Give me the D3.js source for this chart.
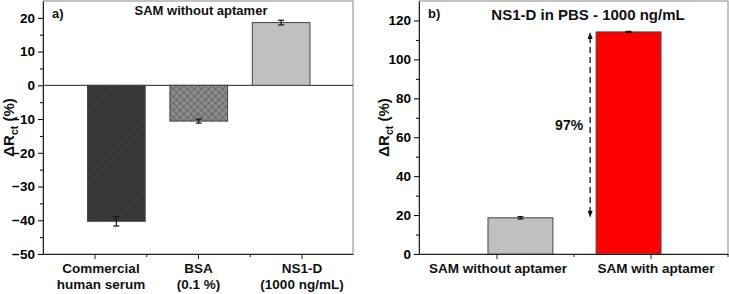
<!DOCTYPE html>
<html>
<head>
<meta charset="utf-8">
<script src="https://cdn.jsdelivr.net/npm/d3@7"></script>
<style>
  body { margin: 0; background: #fff; }
  text { font-family: "Liberation Sans", Arial, sans-serif; font-weight: bold; fill: #111; }
</style>
</head>
<body>
<div id="plot"></div>
<script>
// panel a) data
var catsA = ["Commercial human serum", "BSA (0.1 %)", "NS1-D (1000 ng/mL)"];
var labelsA = [["Commercial", "human serum"], ["BSA", "(0.1 %)"], ["NS1-D", "(1000 ng/mL)"]];
var valuesA = [-40.3, -10.6, 18.6];
var errorsA = [1.4, 0.6, 0.7];
var ticksA = [-50, -40, -30, -20, -10, 0, 10, 20];

// panel b) data
var catsB = ["SAM without aptamer", "SAM with aptamer"];
var valuesB = [18.6, 114.1];
var errorsB = [0.6, 0.3];
var ticksB = [0, 20, 40, 60, 80, 100, 120];

var svgWidth = 729;
var svgHeight = 294;

var svg = d3.select("#plot")
  .append("svg")
  .attr("width", svgWidth)
  .attr("height", svgHeight);

var defs = svg.append("defs");

// diagonal hatch
var p1 = defs.append("pattern")
  .attr("id", "hatch")
  .attr("patternUnits", "userSpaceOnUse")
  .attr("width", 3).attr("height", 3)
  .attr("patternTransform", "rotate(45)");
p1.append("rect").attr("width", 3).attr("height", 3).attr("fill", "#333");
p1.append("line").attr("x1", 0).attr("y1", 0).attr("x2", 0).attr("y2", 3)
  .attr("stroke", "#4e4e4e").attr("stroke-width", 1);

// cross hatch
var p2 = defs.append("pattern")
  .attr("id", "cross")
  .attr("patternUnits", "userSpaceOnUse")
  .attr("width", 5).attr("height", 5)
  .attr("patternTransform", "rotate(45)");
p2.append("rect").attr("width", 5).attr("height", 5).attr("fill", "#8c8c8c");
p2.append("line").attr("x1", 0).attr("y1", 0).attr("x2", 0).attr("y2", 5)
  .attr("stroke", "#4a4a4a").attr("stroke-width", 1);
p2.append("line").attr("x1", 0).attr("y1", 0).attr("x2", 5).attr("y2", 0)
  .attr("stroke", "#4a4a4a").attr("stroke-width", 1);

var fillsA = ["url(#hatch)", "url(#cross)", "#c0c0c0"];
var fillsB = ["#c0c0c0", "#ff0000"];

function drawPanel(opt) {
  var g = svg.append("g");
  var left = opt.left, right = opt.right, top = 1, bottom = 254;

  var y = d3.scaleLinear().domain(opt.yDomain).range([bottom, top]);
  var xTick = d3.scalePoint().domain(opt.cats).range(opt.tickRange);
  var xBar = d3.scaleBand().domain(opt.cats).range(opt.barRange).paddingInner(opt.pad);

  // frame (top / right)
  g.append("rect")
    .attr("x", left).attr("y", top)
    .attr("width", right - left).attr("height", bottom - top)
    .attr("fill", "none").attr("stroke", "#888").attr("stroke-width", 1);

  // zero line
  if (opt.yDomain[0] < 0) {
    g.append("line")
      .attr("x1", left).attr("x2", right)
      .attr("y1", y(0)).attr("y2", y(0))
      .attr("stroke", "#222").attr("stroke-width", 1);
  }

  // bars
  g.selectAll(".bar")
    .data(opt.values)
    .enter()
    .append("rect")
    .attr("x", (d, i) => xBar(opt.cats[i]))
    .attr("width", xBar.bandwidth())
    .attr("y", d => y(Math.max(0, d)))
    .attr("height", d => Math.abs(y(d) - y(0)))
    .attr("fill", (d, i) => opt.fills[i])
    .attr("stroke", "#444").attr("stroke-width", 1);

  // error bars
  var eb = g.selectAll(".err")
    .data(opt.values)
    .enter()
    .append("g")
    .attr("transform", (d, i) => `translate(${xBar(opt.cats[i]) + xBar.bandwidth() / 2},0)`);
  eb.append("line")
    .attr("y1", (d, i) => y(d - opt.errors[i]))
    .attr("y2", (d, i) => y(d + opt.errors[i]))
    .attr("stroke", "#111").attr("stroke-width", 1.2);
  eb.append("line")
    .attr("x1", -3).attr("x2", 3)
    .attr("y1", (d, i) => y(d - opt.errors[i]))
    .attr("y2", (d, i) => y(d - opt.errors[i]))
    .attr("stroke", "#111").attr("stroke-width", 1.2);
  eb.append("line")
    .attr("x1", -3).attr("x2", 3)
    .attr("y1", (d, i) => y(d + opt.errors[i]))
    .attr("y2", (d, i) => y(d + opt.errors[i]))
    .attr("stroke", "#111").attr("stroke-width", 1.2);

  // y axis
  var yAxis = g.append("g")
    .attr("transform", `translate(${left},0)`)
    .call(d3.axisLeft(y).tickValues(opt.ticks).tickSize(5).tickSizeOuter(0).tickPadding(3));
  yAxis.select(".domain").attr("stroke", "#222");
  yAxis.selectAll("text").attr("font-size", 13.5).style("fill", "#000");
  g.append("g")
    .attr("transform", `translate(${left},0)`)
    .call(d3.axisLeft(y).tickValues(opt.minor).tickSize(3).tickFormat(""))
    .select(".domain").remove();

  // x axis: major ticks at categories, minor between
  var xs = opt.cats.map(c => xTick(c));
  var step = xs.length > 1 ? xs[1] - xs[0] : 0;
  var xl = d3.scaleLinear().domain([0, 1]).range([left, right]);
  var xAxis = g.append("g")
    .attr("transform", `translate(0,${bottom})`)
    .call(d3.axisBottom(xl).tickValues([]).tickSizeOuter(0));
  xAxis.select(".domain").attr("stroke", "#222");
  g.selectAll(".xmaj")
    .data(xs)
    .enter()
    .append("line")
    .attr("x1", d => d).attr("x2", d => d)
    .attr("y1", bottom).attr("y2", bottom + 5)
    .attr("stroke", "#222");
  var minors = [];
  for (var v = xs[0] - step / 2; v <= right + 0.5; v += step) {
    if (v > left + 1) minors.push(v);
  }
  g.selectAll(".xmin")
    .data(minors)
    .enter()
    .append("line")
    .attr("x1", d => d).attr("x2", d => d)
    .attr("y1", bottom).attr("y2", bottom + 3)
    .attr("stroke", "#222");

  // category labels
  opt.labels.forEach(function (lines, i) {
    var t = g.append("text")
      .attr("x", xs[i] + (opt.labelShift ? opt.labelShift[i] : 0))
      .attr("y", 273)
      .attr("text-anchor", "middle")
      .attr("font-size", 13.5);
    lines.forEach(function (s, j) {
      t.append("tspan")
        .attr("x", xs[i] + (opt.labelShift ? opt.labelShift[i] : 0))
        .attr("dy", j === 0 ? 0 : 16)
        .text(s);
    });
  });

  // y title
  var yt = g.append("text")
    .attr("transform", `translate(${opt.yTitleX},${(top + bottom) / 2}) rotate(-90)`)
    .attr("text-anchor", "middle")
    .attr("font-size", 15);
  yt.append("tspan").text("\u0394R");
  yt.append("tspan").attr("font-size", 10.5).attr("dy", 4).text("ct");
  yt.append("tspan").attr("dy", -4).text(" (%)");

  // panel letter and title
  g.append("text")
    .attr("x", left + 9).attr("y", 18)
    .attr("font-size", 13)
    .text(opt.letter);
  g.append("text")
    .attr("x", opt.titleX).attr("y", opt.titleY)
    .attr("text-anchor", "middle")
    .attr("font-size", opt.titleSize)
    .text(opt.title);

  return { y: y, xBar: xBar, g: g };
}

drawPanel({
  left: 43, right: 353,
  yDomain: [-50, 25],
  ticks: ticksA,
  minor: d3.range(-45, 25, 10),
  cats: catsA, labels: labelsA,
  values: valuesA, errors: errorsA, fills: fillsA,
  tickRange: [95, 302],
  barRange: [87.5, 310],
  pad: 0.3,
  labelShift: [6, 0, 0],
  yTitleX: 14,
  letter: "a)",
  title: "SAM without aptamer",
  titleX: 201, titleY: 15, titleSize: 13
});

var pb = drawPanel({
  left: 419, right: 728,
  yDomain: [0, 130],
  ticks: ticksB,
  minor: d3.range(10, 130, 20),
  cats: catsB, labels: catsB.map(c => [c]),
  values: valuesB, errors: errorsB, fills: fillsB,
  tickRange: [497, 651],
  barRange: [488, 661],
  pad: 0.4,
  labelShift: [1, 5],
  yTitleX: 389,
  letter: "b)",
  title: "NS1-D in PBS - 1000 ng/mL",
  titleX: 588, titleY: 20, titleSize: 15
});

// double-headed dashed arrow between the two bar heights
var arrowX = pb.xBar(catsB[1]) - 6;
var yTop = pb.y(valuesB[1]);
var yBot = pb.y(valuesB[0]);
pb.g.append("line")
  .attr("x1", arrowX).attr("x2", arrowX)
  .attr("y1", yTop + 5).attr("y2", yBot - 5)
  .attr("stroke", "#111").attr("stroke-width", 1.3)
  .attr("stroke-dasharray", "6,4");
pb.g.append("path")
  .attr("d", `M${arrowX},${yTop} l-2.5,7 l5,0 z`)
  .attr("fill", "#111");
pb.g.append("path")
  .attr("d", `M${arrowX},${yBot} l-2.5,-7 l5,0 z`)
  .attr("fill", "#111");
pb.g.append("text")
  .attr("x", arrowX - 7).attr("y", 130)
  .attr("text-anchor", "end")
  .attr("font-size", 14)
  .text("97%");
</script>
</body>
</html>
